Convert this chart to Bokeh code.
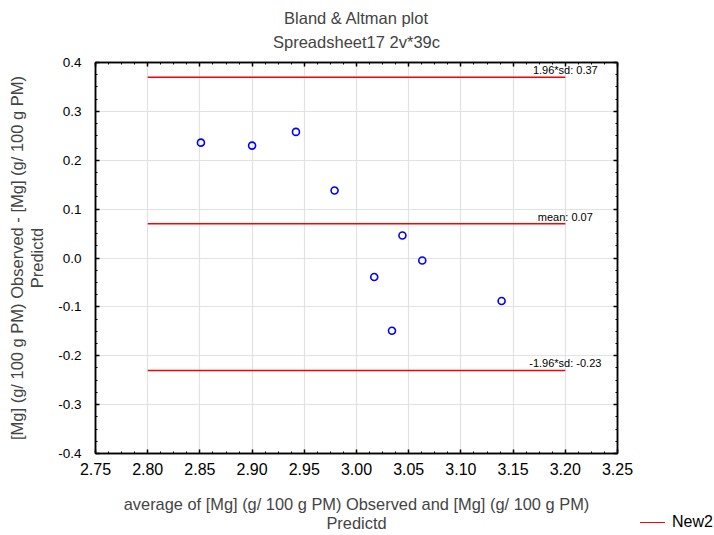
from bokeh.plotting import figure
from bokeh.layouts import row
from bokeh.models import (Range1d, LinearAxis, FixedTicker, Div, Title,
                          ColumnDataSource, NumeralTickFormatter, CustomJSTickFormatter)
from bokeh.embed import file_html
from bokeh.resources import INLINE
from bokeh.core.properties import value

# ---- data ----
avg_x = [2.851, 2.900, 2.942, 2.979, 3.017, 3.034, 3.044, 3.063, 3.139]
diff_y = [0.236, 0.230, 0.258, 0.138, -0.039, -0.149, 0.046, -0.005, -0.088]

line_levels = [0.37, 0.07, -0.23]
line_labels = ["1.96*sd: 0.37", "mean: 0.07", "-1.96*sd: -0.23"]
line_x_start = 2.80
line_x_end = 3.20

x_ticks = [2.75, 2.80, 2.85, 2.90, 2.95, 3.00, 3.05, 3.10, 3.15, 3.20, 3.25]
y_ticks = [-0.4, -0.3, -0.2, -0.1, 0.0, 0.1, 0.2, 0.3, 0.4]
x_minor_step = 0.0125
y_minor_step = 0.025

title_text = "Bland & Altman plot"
subtitle_text = "Spreadsheet17 2v*39c"
x_label = "average of [Mg] (g/ 100 g PM) Observed and [Mg] (g/ 100 g PM)\nPredictd"
y_label = "[Mg] (g/ 100 g PM) Observed - [Mg] (g/ 100 g PM)\nPredictd"
legend_label = "New2"

FONT = "Liberation Sans"
RED = "#ff0000"

x_minor = [x_ticks[0] + i * x_minor_step for i in range(int(round((x_ticks[-1] - x_ticks[0]) / x_minor_step)) + 1)]
y_minor = [y_ticks[0] + i * y_minor_step for i in range(int(round((y_ticks[-1] - y_ticks[0]) / y_minor_step)) + 1)]

main = figure(width=637, height=535, output_backend="svg", toolbar_location=None,
              x_range=Range1d(x_ticks[0], x_ticks[-1]), y_range=Range1d(y_ticks[0], y_ticks[-1]),
              min_border_left=95, min_border_right=20, min_border_top=62, min_border_bottom=80,
              background_fill_color="white", border_fill_color="white")

main.outline_line_color = "black"
main.outline_line_width = 1.5

xticker = FixedTicker(ticks=x_ticks, minor_ticks=x_minor)
yticker = FixedTicker(ticks=y_ticks, minor_ticks=y_minor)
blank = CustomJSTickFormatter(code="return ''")

# frame axes on top / right (ticks only)
top_ax = LinearAxis(ticker=xticker, formatter=blank, major_label_standoff=0)
right_ax = LinearAxis(ticker=yticker, formatter=blank, major_label_standoff=0)
main.add_layout(top_ax, "above")
main.add_layout(right_ax, "right")

# titles: subtitle next to the frame, main title outermost
sub_title = Title(text=subtitle_text, align="center", text_font=FONT, text_font_size="16.5px",
                  text_font_style="normal", standoff=24)
main.add_layout(sub_title, "above")
main.title.text = title_text
main.title.align = "center"
main.title.text_font = FONT
main.title.text_font_size = "16.5px"
main.title.text_font_style = "normal"
try:
    main.title.standoff = -16
except Exception:
    sub_title.standoff = 16
    main.title.standoff = 0

xax = main.below[0]
xax.ticker = xticker
xax.formatter = NumeralTickFormatter(format="0.00")
xax.major_label_text_font = FONT
xax.major_label_text_font_size = "16px"
xax.major_label_text_color = "black"
xax.major_label_standoff = 9
xax.axis_label = x_label
xax.axis_label_text_font = FONT
xax.axis_label_text_font_size = "16.4px"
xax.axis_label_text_font_style = "normal"
xax.axis_label_text_line_height = 1.1
xax.axis_label_standoff = 17

yax = main.left[0]
yax.ticker = yticker
yax.formatter = NumeralTickFormatter(format="0.0")
yax.major_label_text_font = FONT
yax.major_label_text_font_size = "13.5px"
yax.major_label_text_color = "black"
yax.major_label_standoff = 14
yax.axis_label = y_label
yax.axis_label_text_font = FONT
yax.axis_label_text_font_size = "16.5px"
yax.axis_label_text_font_style = "normal"
yax.axis_label_text_line_height = 1.1
yax.axis_label_standoff = 9

for ax in [xax, yax, top_ax, right_ax]:
    ax.axis_line_color = "black"
    ax.axis_line_width = 1.5
    ax.major_tick_line_color = "black"
    ax.minor_tick_line_color = "black"
    ax.major_tick_line_width = 1.5
    ax.minor_tick_line_width = 1
    ax.major_tick_in = 4
    ax.major_tick_out = 0
    ax.minor_tick_in = 2
    ax.minor_tick_out = 0

main.xgrid.ticker = xticker
main.ygrid.ticker = yticker
main.xgrid.grid_line_color = "#e2e2e2"
main.ygrid.grid_line_color = "#e2e2e2"
main.xgrid.grid_line_width = 1.2
main.ygrid.grid_line_width = 1.2

# limit lines
n = len(line_levels)
lsrc = ColumnDataSource(dict(x0=[line_x_start] * n, x1=[line_x_end] * n,
                             y=line_levels, lab=line_labels))
main.segment(x0="x0", y0="y", x1="x1", y1="y", source=lsrc, line_color=RED, line_width=1.5)
main.text(x="x1", y="y", text="lab", source=lsrc, text_align="center", text_baseline="bottom",
          text_font=value(FONT), text_font_size="11px", text_color="black", y_offset=-1)

# points
main.scatter(avg_x, diff_y, marker="circle", size=7, fill_color=None, line_color="#0000ff", line_width=1.6)

# legend in the bottom-right corner, outside the plot frame
legend_html = (
    '<div style="padding-top:512px; padding-left:3px; white-space:nowrap; '
    f"font-family:'{FONT}'; font-size:16px; line-height:20px; color:black;\">"
    f'<span style="display:inline-block; width:25px; height:0; border-top:1.5px solid {RED}; '
    'vertical-align:middle; margin-right:7px;"></span>'
    f'{legend_label}</div>'
)
leg = Div(text=legend_html, width=77, height=535, margin=0)

p = row(main, leg, spacing=0)

open("out.html", "w").write(file_html(p, INLINE))
